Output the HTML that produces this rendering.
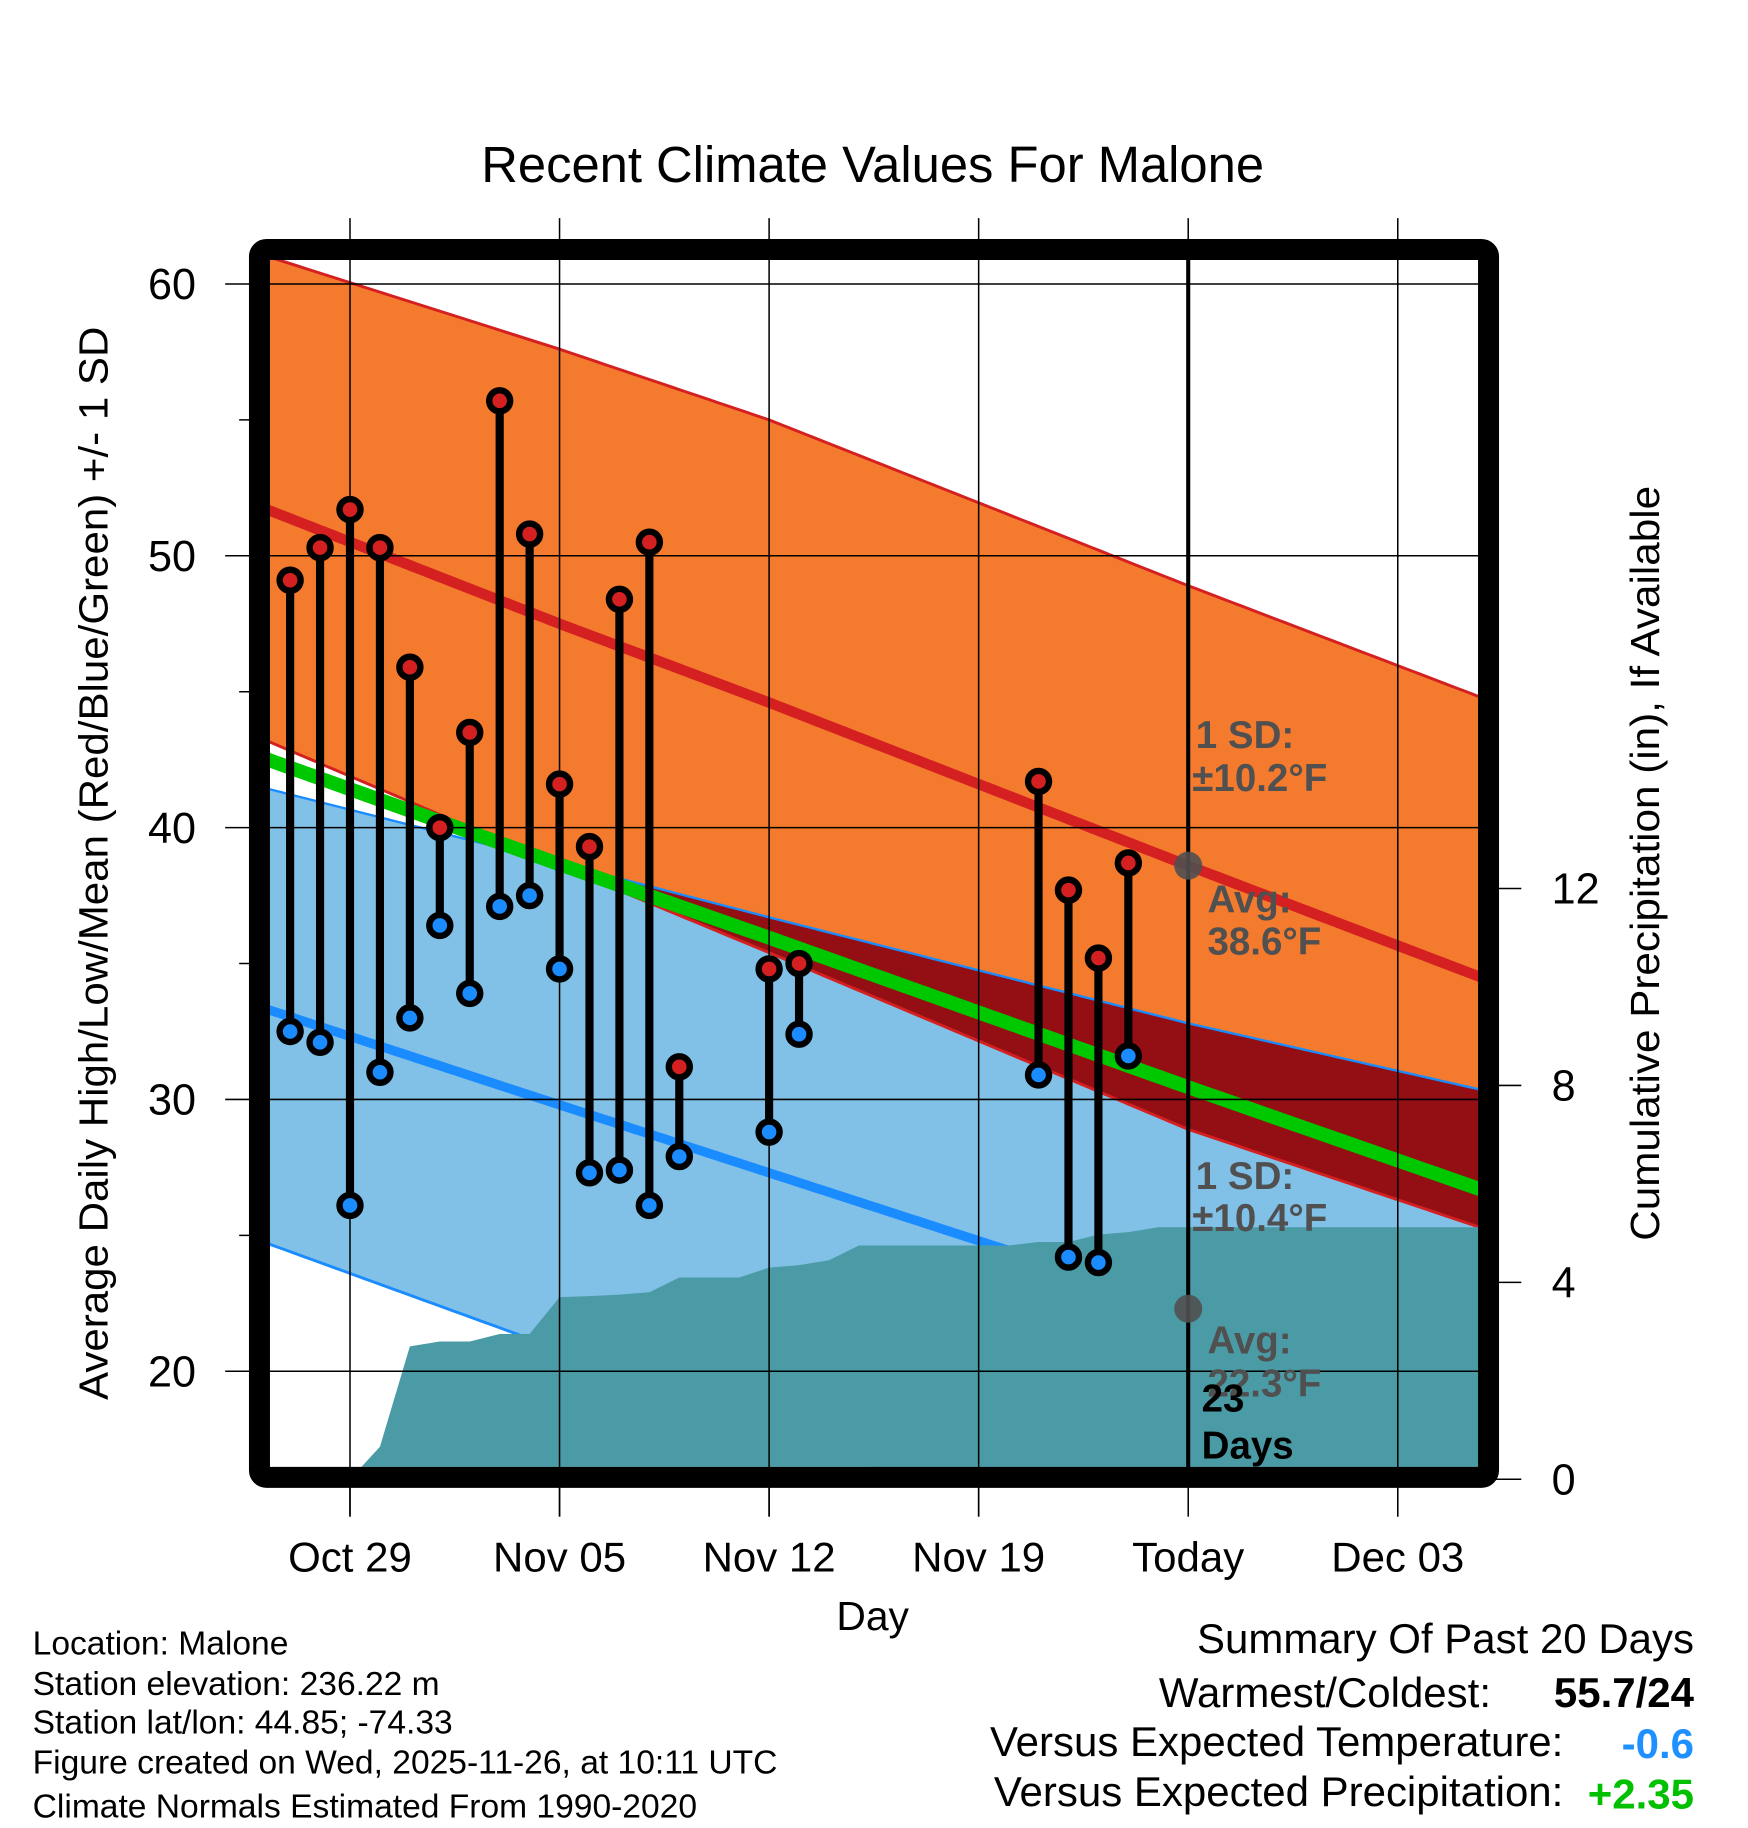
<!DOCTYPE html>
<html><head><meta charset="utf-8"><title>Recent Climate Values For Malone</title>
<style>html,body{margin:0;padding:0;background:#fff}svg{display:block}text{font-family:"Liberation Sans",sans-serif}</style>
</head><body>
<svg id="chart" xmlns="http://www.w3.org/2000/svg" width="1748" height="1828" viewBox="0 0 1498.3 1566.9" preserveAspectRatio="none">
<defs><clipPath id="plotclip"><rect x="231.4" y="222.9" width="1035.5" height="1034.5"/></clipPath></defs>
<g id="plot" clip-path="url(#plotclip)"></g>
<g id="over"></g>
<text x="748" y="156" font-size="43.5" text-anchor="middle" textLength="671" lengthAdjust="spacingAndGlyphs">Recent Climate Values For Malone</text>
<text transform="translate(92,740) rotate(-90)" font-size="35" text-anchor="middle" textLength="920" lengthAdjust="spacingAndGlyphs">Average Daily High/Low/Mean (Red/Blue/Green) +/- 1 SD</text>
<text transform="translate(1422,740) rotate(-90)" font-size="35" text-anchor="middle" textLength="647" lengthAdjust="spacingAndGlyphs">Cumulative Precipitation (in), If Available</text>
<text x="748" y="1397" font-size="35" text-anchor="middle">Day</text>
<g font-size="28.8">
<text x="28" y="1418">Location: Malone</text>
<text x="28" y="1453">Station elevation: 236.22 m</text>
<text x="28" y="1486">Station lat/lon: 44.85; -74.33</text>
<text x="28" y="1520">Figure created on Wed, 2025-11-26, at 10:11 UTC</text>
<text x="28" y="1558">Climate Normals Estimated From 1990-2020</text>
</g>
<g font-size="36">
<text x="1452" y="1417" text-anchor="end">Summary Of Past 20 Days</text>
<text x="1278" y="1463" text-anchor="end">Warmest/Coldest:</text>
<text x="1452" y="1463" text-anchor="end" font-weight="bold">55.7/24</text>
<text x="1340" y="1505" text-anchor="end">Versus Expected Temperature:</text>
<text x="1452" y="1507" text-anchor="end" font-weight="bold" fill="#1e90ff">-0.6</text>
<text x="1340" y="1548" text-anchor="end">Versus Expected Precipitation:</text>
<text x="1452" y="1550" text-anchor="end" font-weight="bold" fill="#00c000">+2.35</text>
</g>
</svg>
<script>
// observed data (day index: 0 = Oct 29)
const obsDays = [-2,-1,0,1,2,3,4,5,6,7,8,9,10,11,14,15,23,24,25,26];
const obsHigh = [49.1,50.3,51.7,50.3,45.9,40.0,43.5,55.7,50.8,41.6,39.3,48.4,50.5,31.2,34.8,35.0,41.7,37.7,35.2,38.7];
const obsLow  = [32.5,32.1,26.1,31.0,33.0,36.4,33.9,37.1,37.5,34.8,27.3,27.4,26.1,27.9,28.8,32.4,30.9,24.2,24.0,31.6];
// normals anchors
const normDays = [-3,7,14,28,38];
const highMean = [51.8,47.5,44.6,38.6,34.4];
const highUpper = [61.1,57.6,55.0,48.9,44.7];
const highLower = [43.3,38.6,35.4,28.9,25.2];
const lowMean = [33.4,29.8,27.3,22.3,18.8];
const lowUpper = [41.5,38.7,36.7,32.8,30.3];
const lowLower = [24.8,20.8,17.9,12.3,8.5];
// cumulative precipitation (in)
const precipDays = [0,1,2,3,4,5,6,7,8,9,10,11,12,13,14,15,16,17,18,19,20,21,22,23,24,25,26,27,28,39];
const precipCum = [0,0.66,2.7,2.8,2.8,2.95,2.95,3.7,3.72,3.75,3.8,4.1,4.1,4.1,4.3,4.35,4.45,4.75,4.75,4.75,4.75,4.75,4.75,4.82,4.82,4.97,5.02,5.12,5.12,5.12];
const yTicks = [20,30,40,50,60];
const yMinor = [25,35,45,55];
const pTicks = [0,4,8,12];
const xTickDays = [0,7,14,21,28,35];
const xTickLabels = ["Oct 29","Nov 05","Nov 12","Nov 19","Today","Dec 03"];
const todayDay = 28;

const NS="http://www.w3.org/2000/svg";
const X=d=>300+25.66*d, Y=t=>243.4+(60-t)*23.3, P=p=>1268-42.2*p;
function interp(xs,ys,x){if(x<=xs[0])return ys[0]+(ys[1]-ys[0])*(x-xs[0])/(xs[1]-xs[0]);for(let i=1;i<xs.length;i++){if(x<=xs[i])return ys[i-1]+(ys[i]-ys[i-1])*(x-xs[i-1])/(xs[i]-xs[i-1]);}const n=xs.length;return ys[n-1]+(ys[n-1]-ys[n-2])*(x-xs[n-1])/(xs[n-1]-xs[n-2]);}
function mk(tag,attrs,parent){const e=document.createElementNS(NS,tag);for(const k in attrs)e.setAttribute(k,attrs[k]);parent.appendChild(e);return e;}
const plot=document.getElementById('plot'), over=document.getElementById('over'), svg=document.getElementById('chart');
const samples=[];for(let d=-3;d<=38.01;d+=0.25)samples.push(d);
const f=(arr,d)=>interp(normDays,arr,d);
function band(up,lo,color,name){const pts=samples.map(d=>X(d)+','+Y(f(up,d))).concat(samples.slice().reverse().map(d=>X(d)+','+Y(f(lo,d))));const e=mk('polygon',{points:pts.join(' '),fill:color},plot);

}
function line(arr,color,w,name){const e=mk('polyline',{points:samples.map(d=>X(d)+','+Y(f(arr,d))).join(' '),fill:'none',stroke:color,'stroke-width':w},plot);

}
band(highUpper,highLower,'#f47a2e','high-sd-band');
band(lowUpper,lowLower,'#82c1e7','low-sd-band');
{const top=[],bot=[];for(const d of samples){const t=Math.min(f(highUpper,d),f(lowUpper,d)),b=Math.max(f(highLower,d),f(lowLower,d));if(t>b){top.push(X(d)+','+Y(t));bot.push(X(d)+','+Y(b));}}
if(top.length){const e=mk('polygon',{points:top.concat(bot.reverse()).join(' '),fill:'#940f14'},plot);

}}
line(highUpper,'#d42020',2.5,'high-upper-line');line(highLower,'#d42020',2.5,'high-lower-line');
line(lowUpper,'#1a8cff',2,'low-upper-line');line(lowLower,'#1a8cff',2.5,'low-lower-line');
const meanArr=highMean.map((v,i)=>(v+lowMean[i])/2);
line(meanArr,'#00c800',12,'mean-normal-line');
line(highMean,'#d42020',9,'high-normal-line');
line(lowMean,'#1a8cff',8,'low-normal-line');
// precipitation
{const pts=precipDays.map((d,i)=>X(d)+','+P(precipCum[i]));pts.push(X(39)+','+P(0),X(0)+','+P(0));
const e=mk('polygon',{points:pts.join(' '),fill:'#4a9ba5'},plot);

}
// grid
for(const t of yTicks){const e=mk('line',{x1:193,x2:1267,y1:Y(t),y2:Y(t),stroke:'#000','stroke-width':1.3},over);


const l=mk('text',{x:168,y:Y(t)+13,'font-size':37,'text-anchor':'end'},over);l.textContent=t;

}
for(const t of yMinor){const e=mk('line',{x1:205,x2:222,y1:Y(t),y2:Y(t),stroke:'#000','stroke-width':1.3},over);

}
xTickDays.forEach((d,i)=>{const today=d===todayDay;
const e=mk('line',{x1:X(d),x2:X(d),y1:187,y2:today?1257:1300,stroke:'#000','stroke-width':1.3},over);


const t2=mk('line',{x1:X(d),x2:X(d),y1:1275,y2:1300,stroke:'#000','stroke-width':1.3},over);


const l=mk('text',{x:X(d),y:1347,'font-size':36,'text-anchor':'middle'},over);l.textContent=xTickLabels[i];

});
for(const p of pTicks){const e=mk('line',{x1:1276,x2:1304,y1:P(p),y2:P(p),stroke:'#000','stroke-width':1.3},svg);


const l=mk('text',{x:1330,y:P(p)+13,'font-size':37,'text-anchor':'start'},svg);l.textContent=p;

}
// stems & markers
const marks=mk('g',{},svg);


obsDays.forEach((d,i)=>{const x=X(d);
const s=mk('line',{x1:x,x2:x,y1:Y(obsHigh[i]),y2:Y(obsLow[i]),stroke:'#000','stroke-width':7},marks);


[[obsHigh[i],'#d42020','high-marker'],[obsLow[i],'#1a8cff','low-marker']].forEach(([t,c,n])=>{
const m=mk('circle',{cx:x,cy:Y(t),r:9,fill:c,stroke:'#000','stroke-width':5.5},marks);

});});
// today line & annotations
{const e=mk('line',{x1:X(todayDay),x2:X(todayDay),y1:215,y2:1262,stroke:'#000','stroke-width':3.5},svg);


const hm=f(highMean,todayDay),lm=f(lowMean,todayDay);
[[hm,'today-high-avg-dot'],[lm,'today-low-avg-dot']].forEach(([t,n])=>{const c=mk('circle',{cx:X(todayDay),cy:Y(t),r:12,fill:'#505050','fill-opacity':0.9},svg);

});
const ann=[[1025,641,'1 SD:'],[1022,678,'±10.2°F'],[1035,782,'Avg:'],[1035,818,'38.6°F'],[1025,1019,'1 SD:'],[1022,1055,'±10.4°F'],[1035,1160,'Avg:'],[1035,1197,'22.3°F']];
ann.forEach(([x,y,t])=>{const l=mk('text',{x:x,y:y,'font-size':33,'font-weight':'bold',fill:'#505050'},svg);l.textContent=t;

});
[[1030,1210,'23'],[1030,1250,'Days']].forEach(([x,y,t])=>{const l=mk('text',{x:x,y:y,'font-size':33,'font-weight':'bold',fill:'#000'},svg);l.textContent=t;

});}
// frame
{const e=mk('rect',{x:222.4,y:213.9,width:1053.5,height:1052.5,rx:6,fill:'none',stroke:'#000','stroke-width':18},svg);

}
</script>
</body></html>
